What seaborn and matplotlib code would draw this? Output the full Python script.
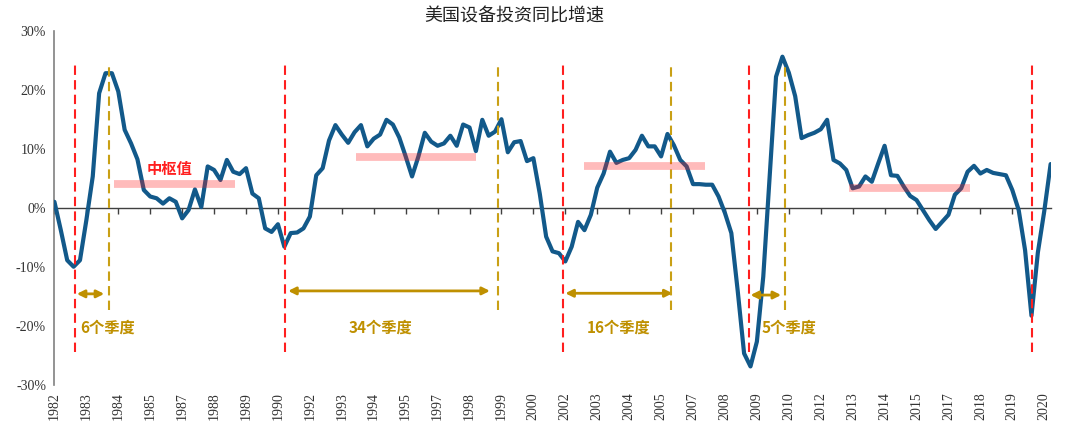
import pandas as pd
import seaborn as sns
import matplotlib.pyplot as plt
from matplotlib.ticker import FuncFormatter

# quarterly YoY growth of US equipment investment (%), 1982Q1 - 2021Q1
growth = [
    1.1, -3.7, -8.8, -9.9, -8.8, -2.0, 5.4, 19.5, 22.9, 22.9, 19.8, 13.3, 11.0, 8.3, 3.1, 2.0,
    1.7, 0.8, 1.7, 1.1, -1.7, -0.3, 3.2, 0.2, 7.1, 6.5, 4.8, 8.2, 6.2, 5.8, 6.8, 2.5,
    1.7, -3.4, -4.0, -2.7, -6.5, -4.2, -4.1, -3.4, -1.4, 5.6, 6.8, 11.5, 14.1, 12.5, 11.1, 12.9,
    14.1, 10.5, 11.8, 12.5, 15.0, 14.2, 12.0, 8.8, 5.4, 8.8, 12.8, 11.3, 10.6, 11.0, 12.3, 10.6,
    14.2, 13.7, 9.7, 15.0, 12.3, 13.0, 15.1, 9.5, 11.2, 11.4, 8.0, 8.5, 2.5, -4.8, -7.3, -7.6,
    -9.0, -6.5, -2.3, -3.7, -1.1, 3.5, 5.9, 9.6, 7.7, 8.2, 8.5, 9.9, 12.3, 10.5, 10.5, 8.8,
    12.6, 10.7, 8.2, 7.1, 4.1, 4.1, 4.0, 4.0, 2.0, -0.8, -4.2, -14.0, -24.6, -26.8, -22.6, -11.6,
    5.4, 22.3, 25.7, 23.0, 19.0, 11.9, 12.4, 12.8, 13.4, 15.0, 8.2, 7.6, 6.5, 3.4, 3.7, 5.4,
    4.5, 7.6, 10.6, 5.6, 5.5, 3.7, 2.1, 1.4, -0.3, -2.0, -3.5, -2.3, -1.1, 2.3, 3.4, 6.2,
    7.2, 5.9, 6.5, 6.0, 5.8, 5.6, 3.1, -0.3, -7.1, -18.2, -7.5, -0.5, 7.5,
]

# x tick labels, one every 5 quarters
tick_labels = ["1982", "1983", "1984", "1985", "1987", "1988", "1989", "1990",
               "1992", "1993", "1994", "1995", "1997", "1998", "1999", "2000",
               "2002", "2003", "2004", "2005", "2007", "2008", "2009", "2010",
               "2012", "2013", "2014", "2015", "2017", "2018", "2019", "2020"]

# cycle annotations (quarter index)
trough_q = [3.2, 36.1, 79.7, 108.8, 153.1]
peak_q = [8.5, 69.5, 96.6, 114.4]
arrow_start = [3.5, 36.6, 80.0, 109.0]
arrow_end = [7.8, 68.2, 96.8, 113.8]
arrow_y = [-14.5, -14.0, -14.4, -14.7]
span_text = ["6个季度", "34个季度", "16个季度", "5个季度"]
span_text_x = [8.4, 51.0, 88.4, 115.0]

# "中枢值" bands
band_y = [4.2, 8.7, 7.1, 3.4]
band_start = [9.4, 47.2, 83.0, 124.4]
band_end = [28.2, 66.0, 101.9, 143.3]

df = pd.DataFrame({"q": range(len(growth)), "growth": growth})

sns.set_style("white")
plt.rcParams["font.family"] = ["Liberation Serif", "Noto Sans CJK SC"]
cjk = ["Noto Sans CJK SC", "DejaVu Sans"]

blue = "#12598a"
red = "#ff1f1f"
gold = "#c9a015"
gold_text = "#bf9000"

fig = plt.figure(figsize=(10.8, 4.38), dpi=100)
ax = fig.add_axes([0.0504, 0.1203, 0.9224, 0.8082])

sns.lineplot(data=df, x="q", y="growth", ax=ax, color=blue, linewidth=3.0, zorder=3)

ax.vlines(trough_q, -24.4, 24.8, colors=red, linewidth=1.5,
          linestyles=(0, (4.5, 2.5)), zorder=4)
ax.vlines(peak_q, -17.3, 24.7, colors=gold, linewidth=1.5,
          linestyles=(0, (4.5, 2.5)), zorder=4)

ax.hlines(band_y, band_start, band_end, colors=red, alpha=0.3, linewidth=5.6, zorder=5)
ax.text(18.0, 6.6, "中枢值", color=red, fontsize=11, fontweight="bold",
        family=cjk, ha="center", va="center")

for x0, x1, y, label, tx in zip(arrow_start, arrow_end, arrow_y, span_text, span_text_x):
    ax.annotate("", xy=(x1, y), xytext=(x0, y),
                arrowprops=dict(arrowstyle="<|-|>", color=gold_text, lw=2.0,
                                mutation_scale=11, shrinkA=0, shrinkB=0))
    ax.text(tx, -20.3, label, color=gold_text, fontsize=11, fontweight="bold",
            family=cjk, ha="center", va="center")

ax.set_xlim(0, len(growth) - 1)
ax.set_ylim(-30, 30)
ax.set_xlabel("")
ax.set_ylabel("")

tick_pos = list(range(0, 5 * len(tick_labels), 5))
ax.set_xticks(tick_pos)
ax.set_xticklabels(tick_labels, rotation=90, fontsize=10, color="#333333")
ax.tick_params(axis="x", length=0, pad=5)

ax.set_yticks(range(-30, 31, 10))
ax.yaxis.set_major_formatter(FuncFormatter(lambda v, _: f"{v:.0f}%"))
ax.tick_params(axis="y", direction="out", length=4, width=1, color="#808080",
               labelsize=10, labelcolor="#333333", pad=2)

for side in ["top", "right", "bottom"]:
    ax.spines[side].set_visible(False)
ax.spines["left"].set_color("#808080")
ax.spines["left"].set_linewidth(1.2)

# zero line with its own tick marks
zero_axis = ax.secondary_xaxis(0, transform=ax.transData)
zero_axis.set_xticks(tick_pos, labels=[])
zero_axis.tick_params(axis="x", direction="out", length=4, width=1, color="#404040")
zero_axis.spines["bottom"].set_color("#404040")
zero_axis.spines["bottom"].set_linewidth(1.0)

fig.text(0.476, 0.962, "美国设备投资同比增速", fontsize=13, family=cjk,
         ha="center", va="center", color="#222222")

fig.savefig("out.png", dpi=100)
